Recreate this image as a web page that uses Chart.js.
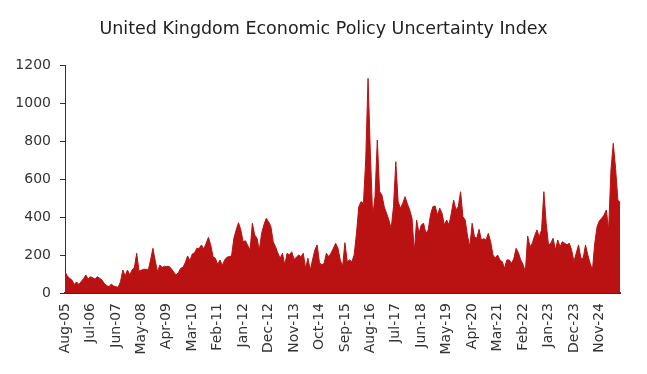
<!DOCTYPE html>
<html>
<head>
<meta charset="utf-8">
<script src="https://cdn.jsdelivr.net/npm/chart.js@4.4.1/dist/chart.umd.min.js"></script>
<style>
  html, body { margin: 0; padding: 0; background: #fff; }
  #wrap { width: 647px; height: 374px; }
</style>
</head>
<body>
<div id="wrap"><canvas id="chart"></canvas></div>
<script>
// monthly index, Aug-05 onwards
const monthNames = ['Jan','Feb','Mar','Apr','May','Jun','Jul','Aug','Sep','Oct','Nov','Dec'];
const firstYear = 2005;
const firstMonth = 7; // Aug

const uncertainty = [
  112, 90, 77, 68, 45, 58, 45, 60, 75, 95,
  73, 86, 80, 73, 86, 77, 68, 50, 40, 33,
  47, 37, 33, 30, 60, 121, 90, 121, 95, 121,
  135, 209, 115, 120, 125, 125, 121, 174, 235, 170,
  112, 147, 135, 140, 140, 140, 128, 110, 95, 107,
  130, 135, 160, 195, 170, 205, 212, 235, 235, 253,
  230, 262, 293, 253, 191, 183, 150, 174, 145, 174,
  188, 192, 195, 288, 332, 370, 332, 270, 275, 250,
  226, 367, 305, 288, 226, 314, 360, 393, 375, 350,
  270, 244, 210, 183, 209, 147, 209, 200, 217, 177,
  188, 200, 191, 209, 130, 183, 121, 174, 226, 253,
  160, 147, 156, 209, 191, 210, 235, 262, 235, 174,
  139, 265, 165, 174, 165, 200, 314, 454, 481, 470,
  700, 1130, 735, 402, 507, 805, 533, 516, 454, 420,
  384, 340, 454, 691, 481, 446, 472, 507, 470, 437,
  393, 218, 384, 314, 358, 367, 314, 332, 412, 454,
  458, 410, 446, 419, 358, 384, 358, 420, 489, 437,
  454, 533, 402, 384, 300, 244, 367, 296, 288, 335,
  279, 286, 279, 314, 270, 200, 183, 200, 174, 165,
  130, 174, 174, 156, 180, 235, 212, 174, 150, 112,
  300, 244, 262, 300, 332, 296, 332, 533, 367, 253,
  262, 288, 226, 279, 244, 270, 262, 253, 262, 226,
  165, 210, 253, 183, 183, 253, 200, 156, 121, 262,
  349, 380, 393, 410, 437, 332, 647, 788, 656, 489, 476
];

const tickLabels = ['Aug-05','Jul-06','Jun-07','May-08','Apr-09','Mar-10','Feb-11','Jan-12',
  'Dec-12','Nov-13','Oct-14','Sep-15','Aug-16','Jul-17','Jun-18','May-19','Apr-20','Mar-21',
  'Feb-22','Jan-23','Dec-23','Nov-24'];

const months = uncertainty.map((_, i) => {
  const m = firstMonth + i;
  const yy = (firstYear + Math.floor(m / 12)) % 100;
  return monthNames[m % 12] + '-' + String(yy).padStart(2, '0');
});

const font = 'DejaVu Sans';

new Chart(document.getElementById('chart'), {
  type: 'line',
  data: {
    labels: months,
    datasets: [{
      data: uncertainty,
      backgroundColor: '#BA1212',
      borderColor: '#BA1212',
      borderWidth: 1,
      pointRadius: 0,
      fill: 'origin',
      tension: 0
    }]
  },
  options: {
    responsive: true,
    maintainAspectRatio: false,
    animation: false,
    layout: { padding: 0 },
    plugins: {
      legend: { display: false },
      tooltip: { enabled: false },
      title: {
        display: true,
        text: 'United Kingdom Economic Policy Uncertainty Index',
        color: '#222',
        font: { family: font, size: 17.5, weight: 'normal' },
        padding: { top: 19, bottom: 25 }
      }
    },
    scales: {
      x: {
        grid: { display: false, drawTicks: false },
        border: { display: true, color: '#333', width: 2 },
        ticks: {
          autoSkip: false,
          maxRotation: 90,
          minRotation: 90,
          padding: 10,
          color: '#333',
          font: { family: font, size: 14 },
          callback: (val, i) => tickLabels.includes(months[i]) ? months[i] : ''
        },
        afterFit: s => { s.height = 81; }
      },
      y: {
        min: 0,
        max: 1200,
        ticks: {
          stepSize: 200,
          padding: 9,
          color: '#333',
          font: { family: font, size: 14 },
          callback: v => String(v)
        },
        grid: { display: true, drawOnChartArea: false, drawTicks: true, tickLength: 5, color: '#333' },
        border: { display: true, color: '#333', width: 1 },
        afterFit: s => { s.width = 65; }
      },
      // empty right margin so the title stays centred on the full width
      spacer: {
        type: 'linear',
        position: 'right',
        display: true,
        ticks: { display: false },
        grid: { display: false, drawTicks: false },
        border: { display: false },
        afterFit: s => { s.width = 22; }
      }
    }
  }
});
</script>
</body>
</html>
